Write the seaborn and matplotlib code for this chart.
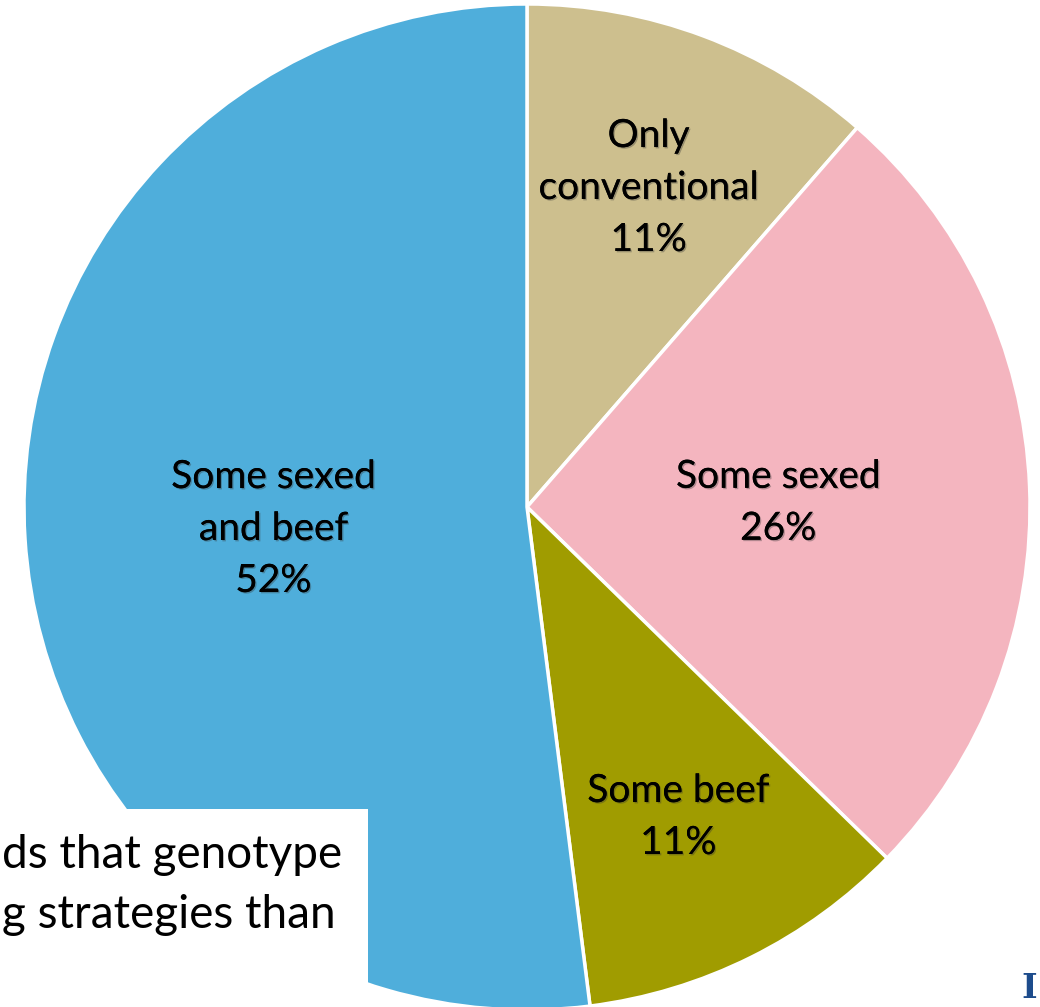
import numpy as np
import matplotlib
matplotlib.use("Agg")
import matplotlib.pyplot as plt
import matplotlib.patheffects as pe
import seaborn as sns

categories = ["Only\nconventional", "Some sexed", "Some beef", "Some sexed\nand beef"]
values = [11.4, 25.9, 10.7, 52.0]
colors = ["#CDBF8E", "#F4B5BF", "#A09C00", "#4FAEDB"]
label_radius = [0.69, 0.50, 0.675, 0.505]
box_lines = ["ds that genotype", "g strategies than"]

sns.set_theme(style="white")
plt.rcParams['font.family'] = ['Lato', 'DejaVu Sans']

W, H = 1040, 1007
fig = plt.figure(figsize=(W / 100, H / 100), dpi=100)
cx, cy, R = 527, 507, 503
ax = fig.add_axes([(cx - R) / W, (H - cy - R) / H, 2 * R / W, 2 * R / H])

wedges, _ = ax.pie(values, colors=colors, startangle=90, counterclock=False,
                   radius=1.0, wedgeprops=dict(edgecolor='white', linewidth=2.5))
ax.set_xlim(-1, 1)
ax.set_ylim(-1, 1)
ax.set_aspect('equal')
ax.axis('off')

shadow = [pe.withSimplePatchShadow(offset=(1, -1), shadow_rgbFace='#333333', alpha=0.35),
          pe.Normal()]

total = sum(values)
cum = 0
for cat, v, r in zip(categories, values, label_radius):
    mid = (cum + v / 2) / total * 360
    cum += v
    ang = np.deg2rad(90 - mid)
    ax.text(r * np.cos(ang), r * np.sin(ang) - 0.012, f"{cat}\n{round(v)}%",
            ha='center', va='center', fontsize=28, color='black',
            linespacing=1.55, path_effects=shadow)

# overlapping white text box at bottom-left
fig.patches.append(plt.Rectangle((0, 0), 368 / W, (H - 809) / H,
                                 transform=fig.transFigure, facecolor='white',
                                 edgecolor='none', zorder=5))
fig.text(342 / W, 1 - 855 / H, box_lines[0], ha='right', va='center',
         fontsize=33, color='black', zorder=6)
fig.text(336 / W, 1 - 915 / H, box_lines[1], ha='right', va='center',
         fontsize=33, color='black', zorder=6)

fig.text(1029 / W, 1 - 998 / H, "I", ha='center', va='baseline', fontsize=24,
         fontweight='bold', family='DejaVu Serif', color='#1D4C8C', zorder=6)

fig.savefig("out.png", dpi=100)
